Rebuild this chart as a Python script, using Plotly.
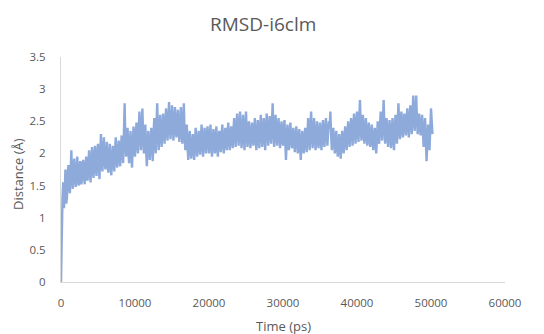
import numpy as np
import plotly.graph_objects as go

step_ps = 100
rmsd = [
    0.00, 1.05, 1.30, 1.55, 1.15, 1.40, 1.75, 1.22, 1.30, 1.68, 1.82, 1.50, 1.38, 1.72, 2.05, 1.60, 1.45, 1.80, 1.92, 1.58, 1.48, 1.70, 1.95, 1.62, 1.50,
    1.78, 1.88, 1.52, 1.55, 1.82, 1.90, 1.66, 1.52, 1.75, 1.95, 1.60, 1.58, 1.85, 2.05, 1.70, 1.55, 1.90, 2.10, 1.75, 1.62, 1.95, 2.12, 1.78, 1.65, 1.98,
    2.15, 1.85, 1.60, 1.98, 2.30, 1.90, 1.72, 2.05, 2.25, 1.88, 1.75, 2.00, 2.18, 1.82, 1.70, 1.95, 2.15, 1.80, 1.66, 1.92, 2.12, 1.85, 1.72, 2.02, 2.25,
    1.90, 1.78, 2.05, 2.20, 1.92, 1.80, 2.10, 2.28, 2.00, 1.85, 2.30, 2.78, 2.20, 1.95, 2.15, 2.40, 2.05, 1.85, 2.10, 2.35, 1.95, 1.78, 2.12, 2.42, 2.15,
    1.95, 2.25, 2.48, 2.18, 2.00, 2.35, 2.65, 2.30, 2.05, 2.40, 2.70, 2.25, 2.00, 2.20, 2.45, 2.05, 1.80, 2.10, 2.35, 2.08, 1.90, 2.15, 2.40, 2.12, 1.88,
    2.25, 2.55, 2.20, 2.00, 2.42, 2.78, 2.35, 2.05, 2.35, 2.60, 2.30, 2.10, 2.40, 2.62, 2.35, 2.15, 2.45, 2.70, 2.40, 2.20, 2.50, 2.80, 2.45, 2.22, 2.48,
    2.75, 2.45, 2.20, 2.50, 2.72, 2.40, 2.25, 2.52, 2.68, 2.38, 2.18, 2.45, 2.72, 2.35, 2.15, 2.50, 2.78, 2.30, 2.05, 2.25, 2.45, 2.10, 1.90, 2.15, 2.35,
    2.08, 1.92, 2.12, 2.30, 2.05, 1.90, 2.18, 2.40, 2.12, 1.95, 2.15, 2.35, 2.10, 1.98, 2.22, 2.45, 2.15, 1.95, 2.20, 2.40, 2.18, 2.00, 2.25, 2.42, 2.20,
    2.00, 2.22, 2.45, 2.15, 1.95, 2.18, 2.38, 2.12, 2.00, 2.25, 2.42, 2.10, 1.95, 2.20, 2.35, 2.15, 2.02, 2.28, 2.45, 2.18, 2.00, 2.22, 2.40, 2.20, 2.05,
    2.30, 2.48, 2.22, 2.05, 2.25, 2.42, 2.25, 2.08, 2.35, 2.55, 2.30, 2.10, 2.40, 2.62, 2.35, 2.12, 2.42, 2.65, 2.30, 2.08, 2.38, 2.60, 2.28, 2.05, 2.40,
    2.65, 2.32, 2.10, 2.30, 2.50, 2.25, 2.08, 2.28, 2.48, 2.30, 2.12, 2.35, 2.55, 2.28, 2.05, 2.30, 2.52, 2.25, 2.08, 2.35, 2.60, 2.32, 2.10, 2.30, 2.55,
    2.28, 2.05, 2.38, 2.62, 2.35, 2.12, 2.32, 2.58, 2.38, 2.15, 2.45, 2.78, 2.40, 2.10, 2.35, 2.60, 2.30, 2.12, 2.35, 2.55, 2.28, 2.08, 2.30, 2.50, 2.25,
    2.12, 2.35, 2.52, 2.20, 1.90, 2.18, 2.45, 2.22, 2.05, 2.30, 2.48, 2.25, 2.08, 2.22, 2.40, 2.18, 2.02, 2.25, 2.42, 2.20, 2.00, 2.18, 2.38, 2.12, 1.90,
    2.15, 2.35, 2.15, 2.00, 2.22, 2.40, 2.20, 2.02, 2.30, 2.55, 2.28, 2.05, 2.38, 2.65, 2.32, 2.08, 2.30, 2.55, 2.28, 2.05, 2.25, 2.50, 2.30, 2.08, 2.28,
    2.48, 2.25, 2.05, 2.30, 2.52, 2.28, 2.10, 2.35, 2.55, 2.30, 2.12, 2.32, 2.50, 2.38, 2.65, 2.30, 2.05, 2.22, 2.40, 2.18, 2.00, 2.15, 2.35, 2.12, 1.95,
    2.10, 2.30, 2.08, 1.92, 2.15, 2.35, 2.15, 2.00, 2.22, 2.42, 2.25, 2.05, 2.28, 2.50, 2.30, 2.10, 2.35, 2.55, 2.32, 2.12, 2.40, 2.62, 2.38, 2.15, 2.42,
    2.65, 2.40, 2.18, 2.50, 2.83, 2.45, 2.20, 2.38, 2.60, 2.35, 2.15, 2.32, 2.55, 2.30, 2.12, 2.28, 2.48, 2.25, 2.10, 2.25, 2.45, 2.22, 2.05, 2.20, 2.40,
    2.18, 2.00, 2.25, 2.50, 2.30, 2.15, 2.40, 2.65, 2.42, 2.20, 2.50, 2.83, 2.45, 2.15, 2.35, 2.55, 2.30, 2.10, 2.30, 2.52, 2.28, 2.08, 2.32, 2.55, 2.25,
    2.05, 2.32, 2.60, 2.38, 2.15, 2.48, 2.78, 2.45, 2.22, 2.42, 2.65, 2.45, 2.25, 2.45, 2.62, 2.48, 2.28, 2.50, 2.70, 2.45, 2.25, 2.52, 2.75, 2.50, 2.30,
    2.60, 2.90, 2.58, 2.35, 2.62, 2.90, 2.55, 2.30, 2.45, 2.62, 2.42, 2.28, 2.42, 2.60, 2.35, 2.10, 2.32, 2.55, 2.20, 1.88, 2.15, 2.45, 2.25, 2.05, 2.38,
    2.70, 2.50, 2.30,
]
time_ps = np.arange(len(rmsd)) * step_ps

x_ticks = [0, 10000, 20000, 30000, 40000, 50000, 60000]
y_ticks = [0, 0.5, 1, 1.5, 2, 2.5, 3, 3.5]

FONT = "Open Sans"
GREY = "#595959"

L, R, T, B = 61, 505, 57, 282  # plot area edges in pixels
W = R - L
H = B - T

fig = go.Figure()
fig.add_trace(go.Scatter(
    x=time_ps, y=rmsd, mode="lines",
    line=dict(color="#8eaadb", width=2.4),
    showlegend=False, hoverinfo="skip",
))

fig.update_layout(
    width=544, height=334,
    margin=dict(l=L, r=544 - R, t=T, b=334 - B, autoexpand=False),
    paper_bgcolor="white", plot_bgcolor="white",
    font=dict(family=FONT, color=GREY, size=11.5),
    xaxis=dict(
        range=[0, 60000], tickvals=x_ticks, ticktext=[str(v) for v in x_ticks],
        showgrid=False, zeroline=False, showline=True, linecolor="#d9d9d9", linewidth=1,
        ticks="", ticklabelstandoff=10, tickfont=dict(size=11.5, color=GREY), automargin=False,
    ),
    yaxis=dict(
        range=[0, 3.5], tickvals=y_ticks, ticktext=[f"{v:g}" for v in y_ticks],
        showgrid=False, zeroline=False, showline=True, linecolor="#d9d9d9", linewidth=1,
        ticks="", ticklabelstandoff=12, tickfont=dict(size=11.5, color=GREY), automargin=False,
    ),
    annotations=[
        dict(text="RMSD-i6clm", x=(263 - L) / W, y=(B - 24) / H, xref="paper", yref="paper",
             showarrow=False, font=dict(size=19, color=GREY, family=FONT),
             xanchor="center", yanchor="middle"),
        dict(text="Time (ps)", x=(283 - L) / W, y=-(326 - B) / H, xref="paper", yref="paper",
             showarrow=False, font=dict(size=13, color=GREY, family=FONT),
             xanchor="center", yanchor="middle"),
        dict(text="Distance (Å)", x=-(L - 18) / W, y=(B - 174) / H, xref="paper", yref="paper",
             showarrow=False, textangle=-90, font=dict(size=13, color=GREY, family=FONT),
             xanchor="center", yanchor="middle"),
    ],
)

fig.write_html(
    "out.html",
    config={"displayModeBar": False},
    post_script="document.body.style.margin='0';document.body.style.overflow='hidden';",
)
